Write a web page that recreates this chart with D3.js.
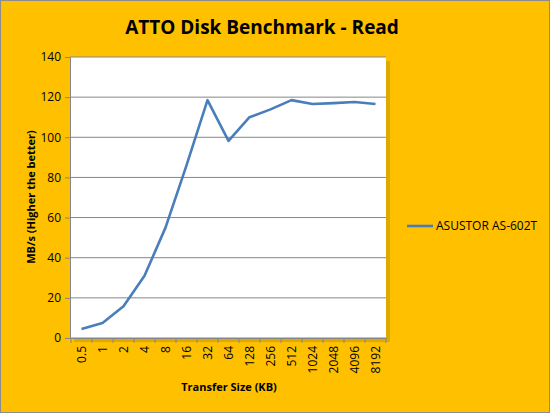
<!DOCTYPE html>
<html><head><meta charset="utf-8">
<script src="https://cdn.jsdelivr.net/npm/d3@7"></script>
<style>body{margin:0;background:#fff}svg{display:block}text{font-family:"Open Sans","Liberation Sans",sans-serif}</style>
</head><body>
<script>
const categories = ["0.5","1","2","4","8","16","32","64","128","256","512","1024","2048","4096","8192"];
const readValues = [4.5,7.5,15.8,31,55,86,118.5,98.2,110,113.9,118.5,116.6,117,117.6,116.6];
const yTicks = [0,20,40,60,80,100,120,140];
const seriesName = "ASUSTOR AS-602T";

const W=550,H=413;
const svg=d3.select("body").append("svg").attr("width",W).attr("height",H);
svg.append("rect").attr("x",0.5).attr("y",0.5).attr("width",W-1).attr("height",H-1)
  .attr("fill","#FFC000").attr("stroke","#8c8c8c").attr("stroke-width",1);

const L=70,R=386,T=57,B=338;
// shadow
svg.append("rect").attr("x",L+4).attr("y",T+4).attr("width",R-L).attr("height",B-T).attr("fill","#c99a00").attr("opacity",0.6);
svg.append("rect").attr("x",L).attr("y",T).attr("width",R-L).attr("height",B-T).attr("fill","#fff");

const x=d3.scaleBand().domain(categories).range([L+1,R]);
const y=d3.scaleLinear().domain([0,140]).range([B,T]);

const g=svg.append("g");
g.selectAll("line.grid").data(yTicks).join("line").attr("class","grid")
  .attr("x1",L).attr("x2",R).attr("y1",d=>y(d)).attr("y2",d=>y(d))
  .attr("stroke","#868686").attr("stroke-width",1);

const yAxis=svg.append("g").attr("transform",`translate(${L},0)`)
  .call(d3.axisLeft(y).tickValues(yTicks).tickSize(5).tickPadding(4));
yAxis.select(".domain").attr("stroke","#868686");
yAxis.selectAll(".tick line").attr("stroke","#868686");
yAxis.selectAll("text").attr("font-size","12px").attr("fill","#000");

const xAxis=svg.append("g").attr("transform",`translate(0,${B})`)
  .call(d3.axisBottom(x).tickSize(0).tickPadding(0));
xAxis.select(".domain").attr("stroke","#868686");
xAxis.selectAll(".tick text").attr("font-size","12px").attr("fill","#000")
  .attr("transform","rotate(-90)").attr("text-anchor","end").attr("dx","-8").attr("dy","0.35em").attr("y",0).attr("x",0);
const bounds=[...categories.map(c=>x(c)),x(categories[categories.length-1])+x.bandwidth()];
svg.selectAll("line.xt").data(bounds).join("line").attr("class","xt")
  .attr("x1",d=>d).attr("x2",d=>d).attr("y1",B).attr("y2",B+5).attr("stroke","#868686");

const line=d3.line().x((d,i)=>x(categories[i])+x.bandwidth()/2).y(d=>y(d));
svg.append("path").datum(readValues).attr("d",line).attr("fill","none")
  .attr("stroke","#4A7EBB").attr("stroke-width",2.6).attr("stroke-linejoin","round");

svg.append("text").attr("x",262).attr("y",34).attr("text-anchor","middle")
  .attr("font-size","19px").attr("font-weight","bold").text("ATTO Disk Benchmark - Read");
svg.append("text").attr("x",229).attr("y",391).attr("text-anchor","middle")
  .attr("font-size","11px").attr("font-weight","bold").text("Transfer Size (KB)");
svg.append("text").attr("transform","translate(35,197) rotate(-90)").attr("text-anchor","middle")
  .attr("font-size","11px").attr("font-weight","bold").text("MB/s (Higher the better)");

svg.append("line").attr("x1",407).attr("x2",433).attr("y1",226).attr("y2",226)
  .attr("stroke","#4A7EBB").attr("stroke-width",2.6);
svg.append("text").attr("x",436).attr("y",230).attr("font-size","12px").text(seriesName);
</script>
</body></html>
